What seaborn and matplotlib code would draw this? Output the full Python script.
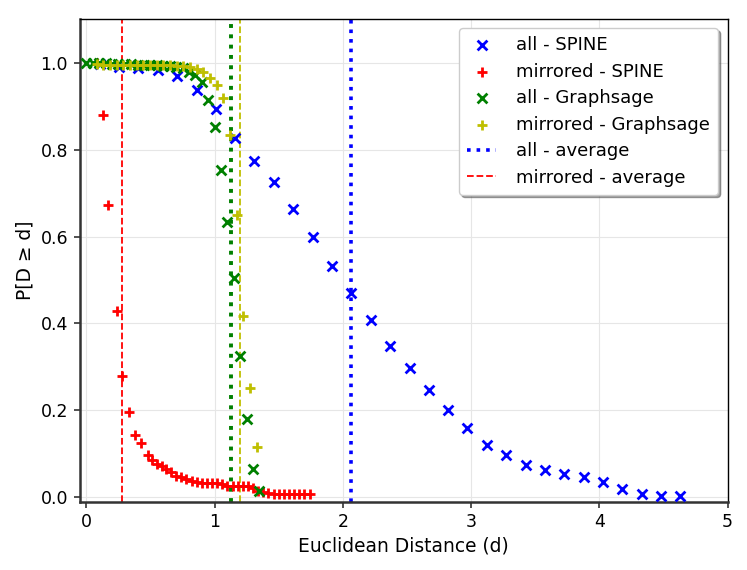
import numpy as np
import pandas as pd
import matplotlib
matplotlib.use("Agg")
import matplotlib.pyplot as plt
import seaborn as sns

# ---- data ----
spine_all_x = [0.104, 0.255, 0.406, 0.557, 0.708, 0.859, 1.01, 1.16, 1.31, 1.46,
               1.61, 1.765, 1.916, 2.067, 2.218, 2.369, 2.52, 2.67, 2.82, 2.97,
               3.124, 3.275, 3.426, 3.577, 3.728, 3.879, 4.03, 4.18, 4.33, 4.48, 4.63]
spine_all_y = [0.998, 0.990, 0.987, 0.983, 0.969, 0.937, 0.893, 0.827, 0.774, 0.725,
               0.663, 0.598, 0.533, 0.470, 0.408, 0.349, 0.297, 0.248, 0.200, 0.159,
               0.121, 0.098, 0.074, 0.063, 0.054, 0.047, 0.036, 0.020, 0.007, 0.004, 0.002]

spine_mir_x = [0.08, 0.127, 0.172, 0.236, 0.275, 0.33, 0.38, 0.43, 0.48, 0.515,
               0.55, 0.59, 0.625, 0.66, 0.70, 0.74, 0.78, 0.82, 0.86, 0.90,
               0.94, 0.98, 1.02, 1.06, 1.10, 1.14, 1.18, 1.22, 1.26, 1.30,
               1.34, 1.38, 1.42, 1.46, 1.50, 1.54, 1.58, 1.62, 1.66, 1.70, 1.747]
spine_mir_y = [1.0, 0.880, 0.672, 0.428, 0.280, 0.197, 0.144, 0.125, 0.097, 0.085,
               0.077, 0.072, 0.065, 0.057, 0.050, 0.047, 0.042, 0.037, 0.034, 0.033,
               0.033, 0.033, 0.032, 0.030, 0.027, 0.027, 0.027, 0.026, 0.025, 0.022,
               0.015, 0.012, 0.009, 0.008, 0.008, 0.008, 0.008, 0.008, 0.008, 0.008, 0.008]

sage_all_x = [0.0, 0.05, 0.10, 0.15, 0.20, 0.25, 0.30, 0.35, 0.40, 0.45,
              0.50, 0.55, 0.60, 0.65, 0.70, 0.75, 0.80, 0.85, 0.90, 0.95,
              1.00, 1.05, 1.10, 1.15, 1.20, 1.25, 1.30, 1.35]
sage_all_y = [1.0, 1.0, 0.999, 0.999, 0.998, 0.998, 0.997, 0.997, 0.996, 0.995,
              0.995, 0.994, 0.993, 0.992, 0.990, 0.987, 0.979, 0.972, 0.955, 0.914,
              0.853, 0.753, 0.634, 0.504, 0.326, 0.180, 0.064, 0.014]

sage_mir_x = [0.08, 0.132, 0.184, 0.236, 0.288, 0.34, 0.392, 0.444, 0.496, 0.548,
              0.60, 0.652, 0.704, 0.756, 0.808, 0.86, 0.912, 0.964, 1.016, 1.068,
              1.12, 1.172, 1.224, 1.276, 1.328]
sage_mir_y = [0.998, 0.996, 0.995, 0.995, 0.995, 0.995, 0.995, 0.995, 0.995, 0.994,
              0.994, 0.994, 0.993, 0.992, 0.990, 0.985, 0.979, 0.964, 0.949, 0.918,
              0.834, 0.650, 0.418, 0.251, 0.116]

avg_all = 2.066
avg_mir = 0.278
avg_sage_all = 1.126
avg_sage_mir = 1.198

x_ticks = [0, 1, 2, 3, 4, 5]
y_ticks = [0.0, 0.2, 0.4, 0.6, 0.8, 1.0]

# ---- plot ----
sns.set_style("whitegrid", {"grid.color": "#e6e6e6", "axes.edgecolor": "#333333",
                            "text.color": "black", "axes.labelcolor": "black",
                            "xtick.color": "black", "ytick.color": "black"})
plt.rcParams['font.family'] = ['DejaVu Sans']

fig = plt.figure(figsize=(7.47, 5.70), dpi=100)
ax = fig.add_axes([0.107, 0.12, 0.867, 0.846])

mk = dict(s=50, linewidth=2.0)
sns.scatterplot(x=spine_all_x, y=spine_all_y, marker='x', color='b', label='all - SPINE', ax=ax, zorder=3, **mk)
sns.scatterplot(x=spine_mir_x, y=spine_mir_y, marker='+', color='r', label='mirrored - SPINE', ax=ax, zorder=3, **mk)
sns.scatterplot(x=sage_all_x, y=sage_all_y, marker='x', color='g', label='all - Graphsage', ax=ax, zorder=3, **mk)
sns.scatterplot(x=sage_mir_x, y=sage_mir_y, marker='+', color='y', label='mirrored - Graphsage', ax=ax, zorder=3, **mk)

ax.axvline(avg_all, color='b', linestyle=':', linewidth=2.6, label='all - average', zorder=2)
ax.axvline(avg_mir, color='r', linestyle='--', linewidth=1.3, label='mirrored - average', zorder=2)
ax.axvline(avg_sage_all, color='g', linestyle=':', linewidth=2.8, label='_nolegend_', zorder=2)
ax.axvline(avg_sage_mir, color='y', linestyle='--', linewidth=1.3, label='_nolegend_', zorder=2)

ax.set_xlim(-0.05, 5)
ax.set_ylim(-0.01, 1.1)
ax.set_xticks(x_ticks)
ax.set_yticks(y_ticks)
ax.set_xticklabels([str(t) for t in x_ticks])
ax.set_yticklabels([f"{t:.1f}" for t in y_ticks])
ax.tick_params(axis='both', labelsize=12.5, left=True, bottom=True, length=4.5, width=1.2,
               color='#333333', labelcolor='black', pad=4)

for side in ['left', 'bottom']:
    ax.spines[side].set_linewidth(1.8)
    ax.spines[side].set_color('#333333')
for side in ['top', 'right']:
    ax.spines[side].set_linewidth(1.0)
    ax.spines[side].set_color('black')

ax.set_xlabel('Euclidean Distance (d)', fontsize=13.4, color='black')
ax.set_ylabel('P[D ≥ d]', fontsize=13.4, color='black')

leg = ax.legend(loc='upper right', fontsize=13.0, frameon=True, fancybox=True, shadow=True,
                framealpha=1, borderpad=0.45, handlelength=1.6, handletextpad=1.1,
                labelspacing=0.47, borderaxespad=0, bbox_to_anchor=(0.985, 0.982))
leg.get_frame().set_edgecolor('#cccccc')
for t in leg.get_texts():
    t.set_color('black')

fig.savefig('out.png', dpi=100)
